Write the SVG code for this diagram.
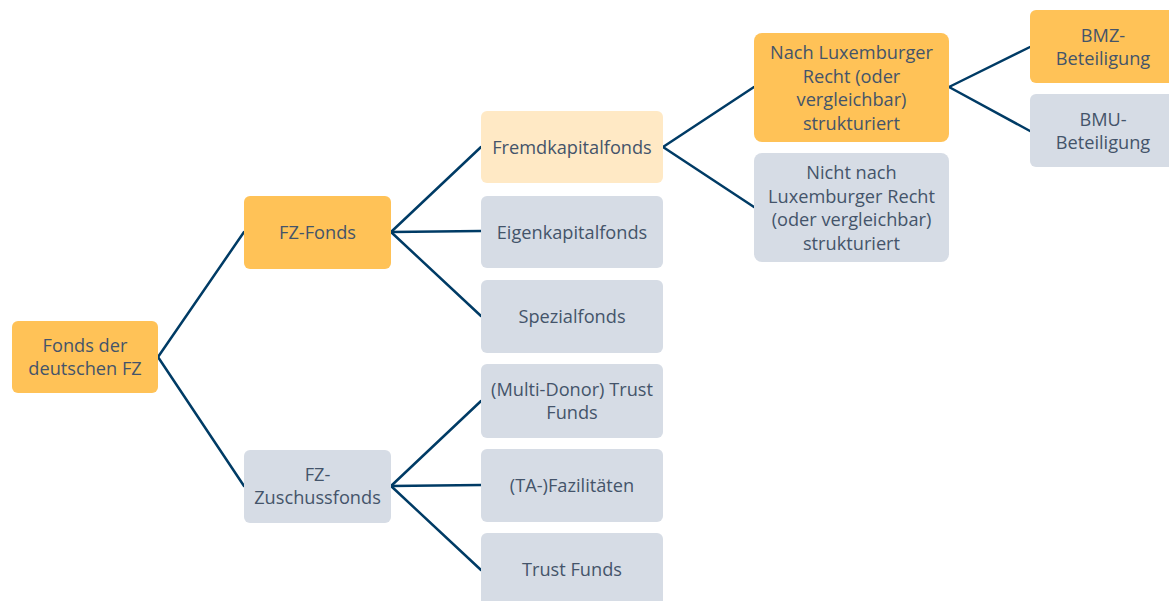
<svg xmlns="http://www.w3.org/2000/svg" width="1169" height="601" viewBox="0 0 1169 601">
<style>
.o{fill:#FFC257}
.l{fill:#FFE9C5}
.g{fill:#D6DCE5}
text{font-family:"Open Sans","Liberation Sans",sans-serif;font-size:18.2px;fill:#44546A;text-anchor:middle}
.c line{stroke:#003B65;stroke-width:2.5;stroke-linecap:round}
</style>
<rect width="1169" height="601" fill="#fff"/>
<g class="c" id="connectors">
<line x1="158" y1="357" x2="244" y2="232"/>
<line x1="158" y1="357" x2="244" y2="486"/>
<line x1="391" y1="232" x2="481" y2="147"/>
<line x1="391" y1="232" x2="481" y2="231"/>
<line x1="391" y1="232" x2="481" y2="316"/>
<line x1="391" y1="486" x2="481" y2="401"/>
<line x1="391" y1="486" x2="481" y2="485"/>
<line x1="391" y1="486" x2="481" y2="570"/>
<line x1="663" y1="147" x2="754" y2="87"/>
<line x1="663" y1="147" x2="754" y2="207"/>
<line x1="949" y1="87" x2="1030" y2="47"/>
<line x1="949" y1="87" x2="1030" y2="131"/>
</g>
<g id="root"><rect class="o" x="12" y="321" width="146" height="72" rx="6"/><text x="85" y="352">Fonds der</text><text x="85" y="375">deutschen FZ</text></g>
<g id="fzfonds"><rect class="o" x="244" y="196" width="147" height="73" rx="6"/><text x="317.5" y="239">FZ-Fonds</text></g>
<g id="fzzuschuss"><rect class="g" x="244" y="450" width="147" height="73" rx="6"/><text x="317.5" y="481">FZ-</text><text x="317.5" y="504">Zuschussfonds</text></g>
<g id="fremd"><rect class="l" x="481" y="111" width="182" height="72" rx="6"/><text x="572" y="154">Fremdkapitalfonds</text></g>
<g id="eigen"><rect class="g" x="481" y="196" width="182" height="72" rx="6"/><text x="572" y="239">Eigenkapitalfonds</text></g>
<g id="spezial"><rect class="g" x="481" y="280" width="182" height="73" rx="6"/><text x="572" y="323">Spezialfonds</text></g>
<g id="multi"><rect class="g" x="481" y="364" width="182" height="74" rx="6"/><text x="572" y="396">(Multi-Donor) Trust</text><text x="572" y="419">Funds</text></g>
<g id="ta"><rect class="g" x="481" y="449" width="182" height="73" rx="6"/><text x="572" y="492">(TA-)Fazilitäten</text></g>
<g id="trust"><rect class="g" x="481" y="533" width="182" height="74" rx="6"/><text x="572" y="576">Trust Funds</text></g>
<g id="nachlux"><rect class="o" x="754" y="33" width="195" height="109" rx="8"/><text x="851.5" y="59">Nach Luxemburger</text><text x="851.5" y="83">Recht (oder</text><text x="851.5" y="106">vergleichbar)</text><text x="851.5" y="130">strukturiert</text></g>
<g id="nichtlux"><rect class="g" x="754" y="153" width="195" height="109" rx="8"/><text x="851.5" y="179">Nicht nach</text><text x="851.5" y="203">Luxemburger Recht</text><text x="851.5" y="226">(oder vergleichbar)</text><text x="851.5" y="250">strukturiert</text></g>
<g id="bmz"><rect class="o" x="1030" y="10" width="150" height="73" rx="6"/><text x="1103" y="42">BMZ-</text><text x="1103" y="65">Beteiligung</text></g>
<g id="bmu"><rect class="g" x="1030" y="94" width="150" height="73" rx="6"/><text x="1103" y="126">BMU-</text><text x="1103" y="149">Beteiligung</text></g>
</svg>
